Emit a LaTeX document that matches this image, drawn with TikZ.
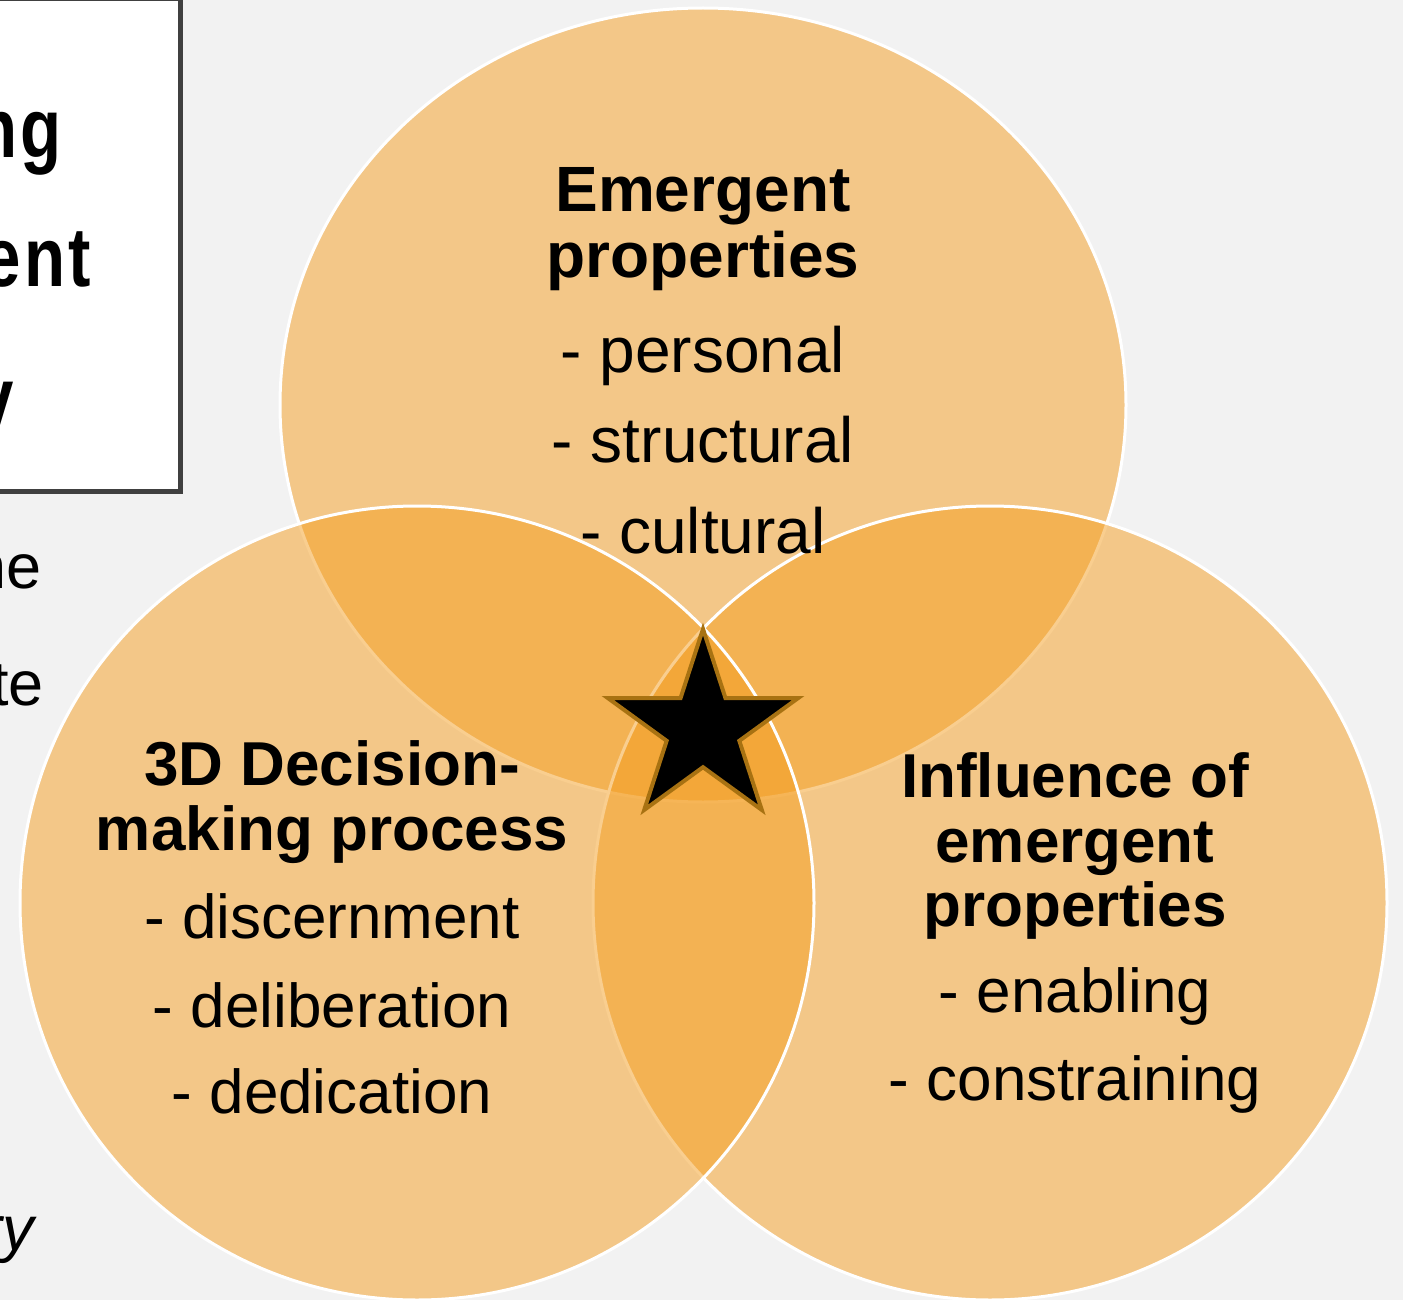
\documentclass[tikz,border=0pt]{standalone}
\usepackage{fontspec}
\setmainfont{Liberation Sans}
\usetikzlibrary{shapes.geometric}
\definecolor{pagebg}{RGB}{242,242,242}
\definecolor{vennfill}{RGB}{244,158,32}
\definecolor{boxline}{RGB}{64,64,64}
\definecolor{starline}{RGB}{168,114,18}

\begin{document}
\begin{tikzpicture}[x=1pt,y=-1pt,
  vennset/.style={fill=vennfill, fill opacity=0.5, draw=white, draw opacity=1, line width=3pt},
  headtop/.style={anchor=base, inner sep=0pt, font=\fontsize{64}{65}\selectfont\bfseries},
  itemtop/.style={anchor=base, inner sep=0pt, font=\fontsize{64}{65}\selectfont},
  headside/.style={anchor=base, inner sep=0pt, font=\fontsize{62}{65}\selectfont\bfseries},
  itemside/.style={anchor=base, inner sep=0pt, font=\fontsize{62}{65}\selectfont},
  boxtext/.style={anchor=base east, inner sep=0pt, font=\fontsize{84}{90}\selectfont\bfseries},
  sidetext/.style={anchor=base east, inner sep=0pt, font=\fontsize{63}{70}\selectfont},
  starmark/.style={star, star points=5, star point ratio=2.618, minimum size=200pt,
    inner sep=0pt, fill=black, draw=starline, line width=4pt}]

% page
\fill[pagebg] (0,0) rectangle (1403,1300);
\useasboundingbox (0,0) rectangle (1403,1300);

% title box at the left edge
\draw[fill=white, draw=boxline, line width=5pt] (-20,-1) rectangle (180,491);
\node[boxtext] (ttl1) at (62,158) {\scalebox{0.8}[1]{n\kern4pt g}};
\node[boxtext] (ttl2) at (91,287) {\scalebox{0.8}[1]{e\kern4pt n\kern4pt t}};
\node[boxtext] (ttl3) at (14,426) {\scalebox{0.8}[1]{y}};

% body text beside the diagram
\node[sidetext] (side1) at (42,588) {ne};
\node[sidetext] (side2) at (44,705) {te};
\node[sidetext] (side3) at (34,1250) {\itshape ry};

% three overlapping sets
\path[vennset] (703,405) ellipse [x radius=423, y radius=397];
\path[vennset] (990,903) circle [radius=397];
\path[vennset] (417,903) circle [radius=397];

% top set
\node[headtop] (t1) at (703,212) {Emergent};
\node[headtop] (t2) at (703,277) {properties};
\node[itemtop] (t3) at (703,372) {- personal};
\node[itemtop] (t4) at (703,462) {- structural};
\node[itemtop] (t5) at (703,553) {- cultural};

% left set
\node[headside] (l1) at (332,785) {3D Decision-};
\node[headside] (l2) at (332,850) {making process};
\node[itemside] (l3) at (332,938) {- discernment};
\node[itemside] (l4) at (332,1027) {- deliberation};
\node[itemside] (l5) at (332,1113) {- dedication};

% right set
\node[headside] (r1) at (1075,797) {Influence of};
\node[headside] (r2) at (1075,862) {emergent};
\node[headside] (r3) at (1075,926) {properties};
\node[itemside] (r4) at (1075,1012) {- enabling};
\node[itemside] (r5) at (1075,1100) {- constraining};

% centre mark
\node[starmark] (centre) at (703,729) {};
\end{tikzpicture}
\end{document}
